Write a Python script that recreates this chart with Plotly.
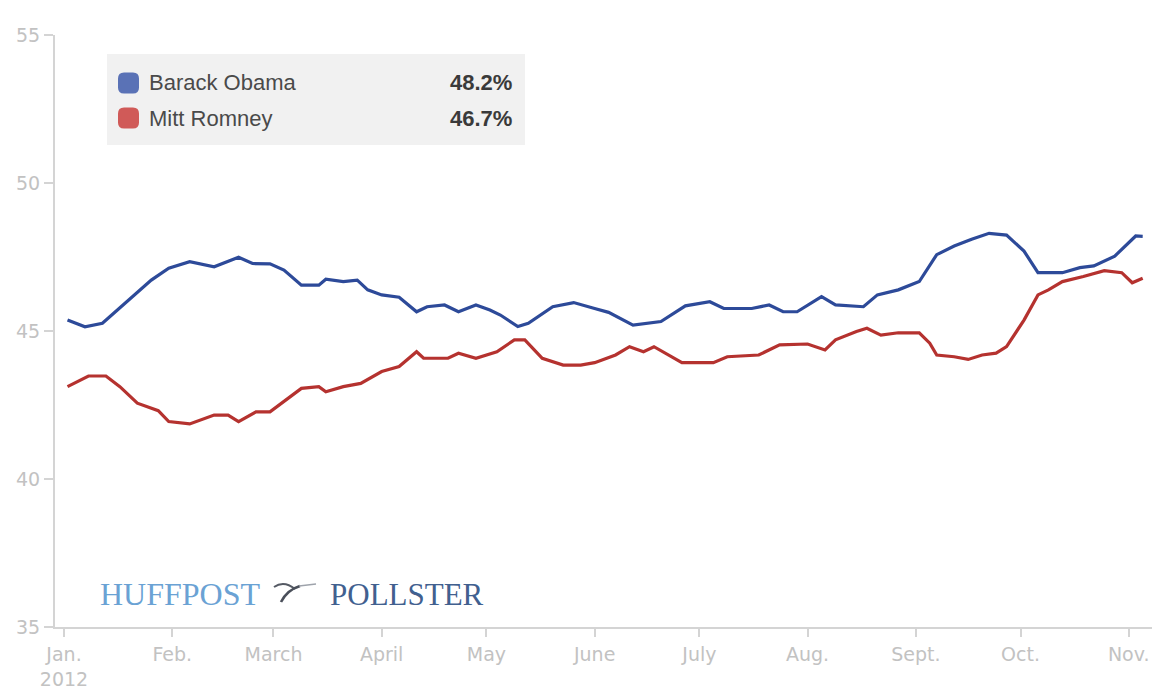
import plotly.graph_objects as go

# ---------------- data ----------------
obama_dates = ["2012-01-02", "2012-01-07", "2012-01-12", "2012-01-19", "2012-01-26", "2012-01-31",
               "2012-02-06", "2012-02-13", "2012-02-20", "2012-02-24", "2012-02-29", "2012-03-04",
               "2012-03-09", "2012-03-14", "2012-03-16", "2012-03-21", "2012-03-25", "2012-03-28",
               "2012-04-01", "2012-04-06", "2012-04-11", "2012-04-14", "2012-04-19", "2012-04-23",
               "2012-04-28", "2012-05-02", "2012-05-05", "2012-05-10", "2012-05-13", "2012-05-20",
               "2012-05-26", "2012-06-01", "2012-06-05", "2012-06-12", "2012-06-20", "2012-06-27",
               "2012-07-04", "2012-07-08", "2012-07-16", "2012-07-21", "2012-07-25", "2012-07-29",
               "2012-08-05", "2012-08-09", "2012-08-17", "2012-08-21", "2012-08-27", "2012-09-02",
               "2012-09-07", "2012-09-12", "2012-09-17", "2012-09-22", "2012-09-27", "2012-10-02",
               "2012-10-06", "2012-10-13", "2012-10-18", "2012-10-22", "2012-10-28", "2012-11-03",
               "2012-11-05"]
obama_values = [45.37, 45.14, 45.26, 45.99, 46.72, 47.12,
                47.34, 47.17, 47.49, 47.28, 47.27, 47.06,
                46.55, 46.55, 46.75, 46.67, 46.72, 46.39,
                46.22, 46.14, 45.65, 45.82, 45.88, 45.65,
                45.88, 45.71, 45.54, 45.15, 45.26, 45.82,
                45.96, 45.76, 45.63, 45.20, 45.32, 45.85,
                45.99, 45.76, 45.76, 45.88, 45.65, 45.65,
                46.16, 45.88, 45.82, 46.22, 46.39, 46.67,
                47.58, 47.87, 48.10, 48.30, 48.24, 47.70,
                46.97, 46.97, 47.14, 47.20, 47.53, 48.21,
                48.20]

romney_dates = ["2012-01-02", "2012-01-08", "2012-01-13", "2012-01-17", "2012-01-22", "2012-01-28",
                "2012-01-31", "2012-02-06", "2012-02-13", "2012-02-17", "2012-02-20", "2012-02-25",
                "2012-02-29", "2012-03-09", "2012-03-14", "2012-03-16", "2012-03-21", "2012-03-26",
                "2012-04-01", "2012-04-06", "2012-04-11", "2012-04-13", "2012-04-20", "2012-04-23",
                "2012-04-28", "2012-05-04", "2012-05-09", "2012-05-12", "2012-05-17", "2012-05-23",
                "2012-05-28", "2012-06-01", "2012-06-07", "2012-06-11", "2012-06-15", "2012-06-18",
                "2012-06-26", "2012-07-05", "2012-07-09", "2012-07-18", "2012-07-24", "2012-08-01",
                "2012-08-06", "2012-08-09", "2012-08-15", "2012-08-18", "2012-08-22", "2012-08-27",
                "2012-09-02", "2012-09-05", "2012-09-07", "2012-09-12", "2012-09-16", "2012-09-20",
                "2012-09-24", "2012-09-27", "2012-10-02", "2012-10-06", "2012-10-09", "2012-10-13",
                "2012-10-19", "2012-10-25", "2012-10-30", "2012-11-02", "2012-11-05"]
romney_values = [43.12, 43.48, 43.48, 43.12, 42.56, 42.31,
                 41.94, 41.86, 42.16, 42.16, 41.94, 42.27,
                 42.27, 43.06, 43.12, 42.95, 43.12, 43.23,
                 43.63, 43.80, 44.30, 44.08, 44.08, 44.25,
                 44.08, 44.30, 44.70, 44.70, 44.08, 43.85,
                 43.85, 43.93, 44.19, 44.47, 44.30, 44.47,
                 43.93, 43.93, 44.13, 44.19, 44.53, 44.56,
                 44.36, 44.70, 44.98, 45.09, 44.86, 44.94,
                 44.94, 44.59, 44.19, 44.13, 44.04, 44.19,
                 44.25, 44.47, 45.37, 46.22, 46.39, 46.67,
                 46.84, 47.04, 46.97, 46.63, 46.78]

series_names = ["Barack Obama", "Mitt Romney"]
latest_labels = ["48.2%", "46.7%"]

month_ticks = ["2012-01-01", "2012-02-01", "2012-03-01", "2012-04-01", "2012-05-01", "2012-06-01",
               "2012-07-01", "2012-08-01", "2012-09-01", "2012-10-01", "2012-11-01"]
month_labels = ["Jan.<br>2012", "Feb.", "March", "April", "May", "June",
                "July", "Aug.", "Sept.", "Oct.", "Nov."]
y_ticks = [35, 40, 45, 50, 55]

# ---------------- styling ----------------
W, H = 1164, 690
L, R, T, B = 55, 1152, 35, 627
LINE_COLORS = ["#2d4a99", "#b5322f"]
SWATCH_COLORS = ["#5a72b6", "#d05a58"]
AXIS_GRAY = "#d4d4d4"
LABEL_GRAY = "#c2c2c2"


def px(x):
    return (x - L) / (R - L)


def py(y):
    return (B - y) / (B - T)


def rounded_rect(x0, y0, x1, y1, r):
    X0, X1 = px(x0), px(x1)
    Y0, Y1 = py(y0), py(y1)  # Y0 is top (larger)
    rx = r / (R - L)
    ry = r / (B - T)
    return (f"M {X0+rx},{Y0} L {X1-rx},{Y0} Q {X1},{Y0} {X1},{Y0-ry} "
            f"L {X1},{Y1+ry} Q {X1},{Y1} {X1-rx},{Y1} "
            f"L {X0+rx},{Y1} Q {X0},{Y1} {X0},{Y1+ry} "
            f"L {X0},{Y0-ry} Q {X0},{Y0} {X0+rx},{Y0} Z")


fig = go.Figure()
fig.add_trace(go.Scatter(x=obama_dates, y=obama_values, mode="lines", name=series_names[0],
                         line=dict(color=LINE_COLORS[0], width=3.2)))
fig.add_trace(go.Scatter(x=romney_dates, y=romney_values, mode="lines", name=series_names[1],
                         line=dict(color=LINE_COLORS[1], width=3.2)))

shapes = []
annotations = []

# legend box
shapes.append(dict(type="rect", xref="paper", yref="paper",
                   x0=px(107), x1=px(525), y0=py(145), y1=py(54),
                   fillcolor="#f1f1f1", line=dict(width=0), layer="below"))
row_y = [83, 118]
for i in range(2):
    shapes.append(dict(type="path", xref="paper", yref="paper",
                       path=rounded_rect(118, row_y[i] - 10.5, 139, row_y[i] + 10.5, 6),
                       fillcolor=SWATCH_COLORS[i], line=dict(width=0)))
    annotations.append(dict(xref="paper", yref="paper", x=px(147), y=py(row_y[i]),
                            xanchor="left", yanchor="middle", showarrow=False,
                            text=series_names[i],
                            font=dict(family="Liberation Sans", size=22, color="#4a4a4a")))
    annotations.append(dict(xref="paper", yref="paper", x=px(514), y=py(row_y[i]),
                            xanchor="right", yanchor="middle", showarrow=False,
                            text="<b>" + latest_labels[i] + "</b>",
                            font=dict(family="Liberation Sans", size=22, color="#3a3a3a")))

# logo
annotations.append(dict(xref="paper", yref="paper", x=px(98), y=py(594),
                        xanchor="left", yanchor="middle", showarrow=False,
                        text="HUFFPOST",
                        font=dict(family="Liberation Serif", size=32, color="#6aa2d4")))
annotations.append(dict(xref="paper", yref="paper", x=px(328), y=py(594),
                        xanchor="left", yanchor="middle", showarrow=False,
                        text="POLLSTER",
                        font=dict(family="Liberation Serif", size=31, color="#41608f")))
shapes.append(dict(type="path", xref="paper", yref="paper",
                   path=f"M {px(274)},{py(587)} Q {px(284)},{py(580)} {px(295)},{py(589)}",
                   line=dict(color="#555a64", width=2)))
shapes.append(dict(type="path", xref="paper", yref="paper",
                   path=f"M {px(281)},{py(602)} Q {px(287)},{py(590)} {px(300)},{py(586)}",
                   line=dict(color="#4a4f5a", width=2.6)))
shapes.append(dict(type="path", xref="paper", yref="paper",
                   path=f"M {px(299)},{py(586)} L {px(316)},{py(584)}",
                   line=dict(color="#9ea3ab", width=1.3)))

fig.update_layout(
    width=W, height=H,
    margin=dict(l=L, r=W - R, t=T, b=H - B, pad=0),
    paper_bgcolor="white", plot_bgcolor="white",
    showlegend=False,
    shapes=shapes, annotations=annotations,
    font=dict(family="DejaVu Sans", color=LABEL_GRAY, size=19),
)
fig.update_xaxes(
    type="date", automargin=False,
    range=["2011-12-29 10:00", "2012-11-07 16:00"],
    tickvals=month_ticks, ticktext=month_labels,
    showgrid=False, zeroline=False,
    showline=True, linecolor=AXIS_GRAY, linewidth=2,
    ticks="outside", ticklen=8, tickcolor=AXIS_GRAY, tickwidth=1.5,
    ticklabelstandoff=1,
    tickfont=dict(family="DejaVu Sans", size=19, color=LABEL_GRAY),
)
fig.update_yaxes(
    range=[35, 55], automargin=False,
    tickvals=y_ticks,
    showgrid=False, zeroline=False,
    showline=True, linecolor=AXIS_GRAY, linewidth=2,
    ticks="outside", ticklen=9, tickcolor=AXIS_GRAY, tickwidth=1.5,
    tickfont=dict(family="DejaVu Sans", size=19, color=LABEL_GRAY),
)

fig.write_html("out.html")
